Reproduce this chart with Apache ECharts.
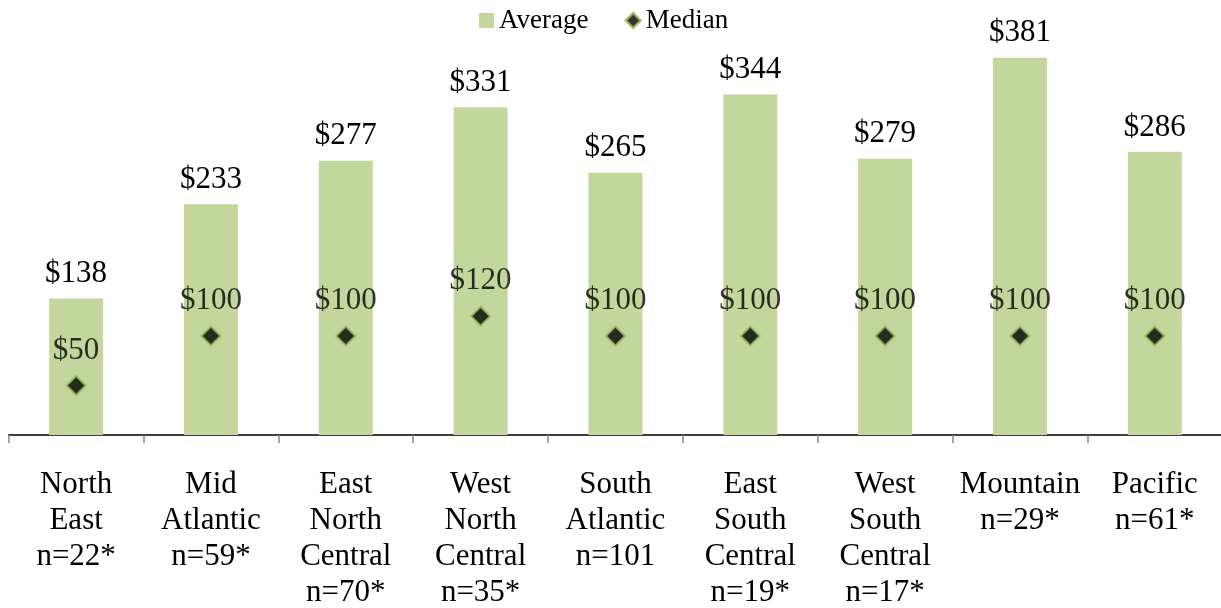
<!DOCTYPE html>
<html>
<head>
<meta charset="utf-8">
<script src="https://cdn.jsdelivr.net/npm/echarts@6/dist/echarts.min.js"></script>
<style>
html,body{margin:0;padding:0;background:#fff;}
#chart{width:1221px;height:608px;}
</style>
</head>
<body>
<div id="chart"></div>
<script>
const categories = [
  "North\nEast\nn=22*",
  "Mid\nAtlantic\nn=59*",
  "East\nNorth\nCentral\nn=70*",
  "West\nNorth\nCentral\nn=35*",
  "South\nAtlantic\nn=101",
  "East\nSouth\nCentral\nn=19*",
  "West\nSouth\nCentral\nn=17*",
  "Mountain\nn=29*",
  "Pacific\nn=61*"
];
const averageValues = [138, 233, 277, 331, 265, 344, 279, 381, 286];
const medianValues = [50, 100, 100, 120, 100, 100, 100, 100, 100];

const FONT = "'Liberation Serif', 'Times New Roman', serif";
const chart = echarts.init(document.getElementById('chart'));
chart.setOption({
  animation: false,
  textStyle: { fontFamily: FONT },
  legend: {
    top: 7,
    left: 479,
    padding: 0,
    itemWidth: 15,
    itemHeight: 15,
    itemGap: 36,
    textStyle: { fontFamily: FONT, fontSize: 27, color: '#000' },
    data: [
      { name: 'Average', icon: 'rect' },
      { name: 'Median', icon: 'diamond', itemStyle: { color: '#000', borderColor: '#9BBB59', borderWidth: 2.5 } }
    ]
  },
  grid: { left: 8.7, top: 39, width: 1213.5, height: 396, containLabel: false, outerBoundsMode: 'none' },
  xAxis: {
    type: 'category',
    data: categories,
    axisLine: { show: true, lineStyle: { color: '#000', width: 1.5 } },
    axisTick: { show: true, length: 8, interval: 0, lineStyle: { color: '#888', width: 1.5 } },
    axisLabel: {
      interval: 0,
      margin: 32,
      fontFamily: FONT,
      fontSize: 31,
      lineHeight: 36,
      color: '#000'
    }
  },
  yAxis: {
    type: 'value',
    min: 0,
    max: 400,
    show: false,
    splitLine: { show: false }
  },
  series: [
    {
      name: 'Average',
      type: 'bar',
      data: averageValues,
      barWidth: '40%',
      itemStyle: { color: '#C3D69B' },
      label: {
        show: true,
        position: 'top',
        distance: 9,
        fontFamily: FONT,
        fontSize: 31,
        color: '#000',
        formatter: function (p) { return '$' + p.value; }
      }
    },
    {
      name: 'Median',
      type: 'scatter',
      data: medianValues,
      symbol: 'diamond',
      symbolSize: 19,
      itemStyle: { color: '#000', borderColor: '#9BBB59', borderWidth: 2 },
      z: 5,
      label: {
        show: true,
        position: 'top',
        distance: 9,
        fontFamily: FONT,
        fontSize: 31,
        color: '#000',
        formatter: function (p) { return '$' + p.value; }
      }
    }
  ]
});
</script>
</body>
</html>
